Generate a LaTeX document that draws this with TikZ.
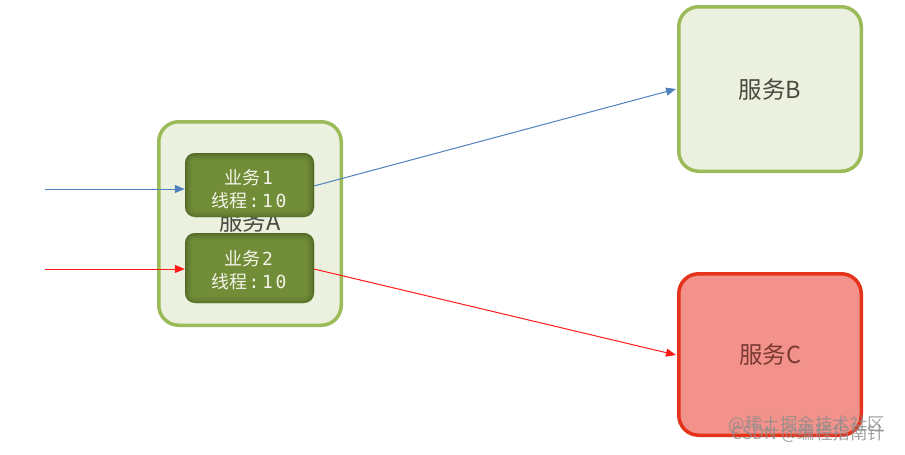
\documentclass[tikz,border=0pt]{standalone}
\usepackage{fontspec}
\setmainfont{Noto Sans CJK SC}
\newfontfamily\monofont{DejaVu Sans Mono}
\usetikzlibrary{arrows.meta}
\definecolor{gborder}{HTML}{9BBB59}
\definecolor{gfill}{HTML}{EBF1DE}
\definecolor{dgfill}{HTML}{718D37}
\definecolor{dgedge}{HTML}{3F521C}
\definecolor{rborder}{HTML}{E5321B}
\definecolor{rfill}{HTML}{F2928A}
\definecolor{bline}{HTML}{4F81BD}
\definecolor{rline}{HTML}{FF1A1A}
\definecolor{txt}{HTML}{4A4A40}
\definecolor{ctxt}{HTML}{7A3A33}
\definecolor{wtxt}{HTML}{F4F4EA}
\newcommand{\mc}[1]{\makebox[13.5pt]{\fontsize{18}{24}\monofont #1}}
\newcommand{\tline}{线程\mc{:}\mc{1}\mc{0}}
\tikzset{
  svc/.style={draw=gborder, fill=gfill, line width=3.5pt, rounded corners=20pt, inner sep=0pt},
  svcred/.style={draw=rborder, fill=rfill, line width=3.5pt, rounded corners=20pt, inner sep=0pt},
  biz/.style={fill=dgfill, rounded corners=10pt, inner sep=0pt,
     text=wtxt, font=\fontsize{18}{23.5}\selectfont, align=center,
     path picture={
       \foreach \w/\o in {14/0.10, 9/0.15, 5/0.22, 2/0.35}
         \draw[line width=\w pt, dgedge, opacity=\o, rounded corners=10pt]
           ([yshift=-1pt]path picture bounding box.south west) rectangle (path picture bounding box.north east);
     }},
  lbl/.style={text=txt, font=\fontsize{23.5}{28}\selectfont},
  arr/.style={-{Triangle[length=10pt,width=8pt]}, line width=1pt},
  wm/.style={text=black!45, font=\fontsize{17.5}{20}\selectfont, opacity=0.8}
}
\begin{document}
\begin{tikzpicture}[x=1pt,y=-1pt]
\useasboundingbox (0,0) rectangle (905,455);
% service A
\node[svc, minimum width=182.5pt, minimum height=203.5pt] (A) at (250,223.5) {};
\node[lbl] (Alabel) at (250,222) {服务A};
\node[biz, minimum width=129pt, minimum height=64pt] (b1) at (249.5,185) {};
\node[text=wtxt, font=\fontsize{18}{23.5}\selectfont, align=center] (b1t) at (249.5,189) {业务\mc{1}\\\tline};
\node[biz, minimum width=129pt, minimum height=70pt] (b2) at (249.5,268) {};
\node[text=wtxt, font=\fontsize{18}{23.5}\selectfont, align=center] (b2t) at (249.5,270) {业务\mc{2}\\\tline};
% service B
\node[svc, minimum width=182.5pt, minimum height=164.5pt] (B) at (770,89) {};
\node[lbl] (Blabel) at (770,90) {服务B};
% service C
\node[svcred, minimum width=182.5pt, minimum height=161.5pt] (C) at (770,354.5) {};
\node[lbl, text=ctxt] (Clabel) at (770,355) {服务C};
% incoming arrows
\coordinate (inB) at (45,189);
\coordinate (inR) at (45,269);
\draw[arr, bline] (inB) -- (b1.west |- inB);
\draw[arr, rline] (inR) -- (b2.west |- inR);
% outgoing
\coordinate (o1) at (314,186);
\coordinate (o2) at (314,269);
\draw[arr, bline] (o1) -- ([xshift=-1pt]B.west |- 0,89);
\draw[arr, rline] (o2) -- ([xshift=-1pt]C.west |- 0,355);
% watermarks
\node[wm, anchor=east] (wm1) at (889,425) {@稀土掘金技术社区};
\node[wm, anchor=east] (wm2) at (889,434) {CSDN @编程指南针};
\end{tikzpicture}
\end{document}
